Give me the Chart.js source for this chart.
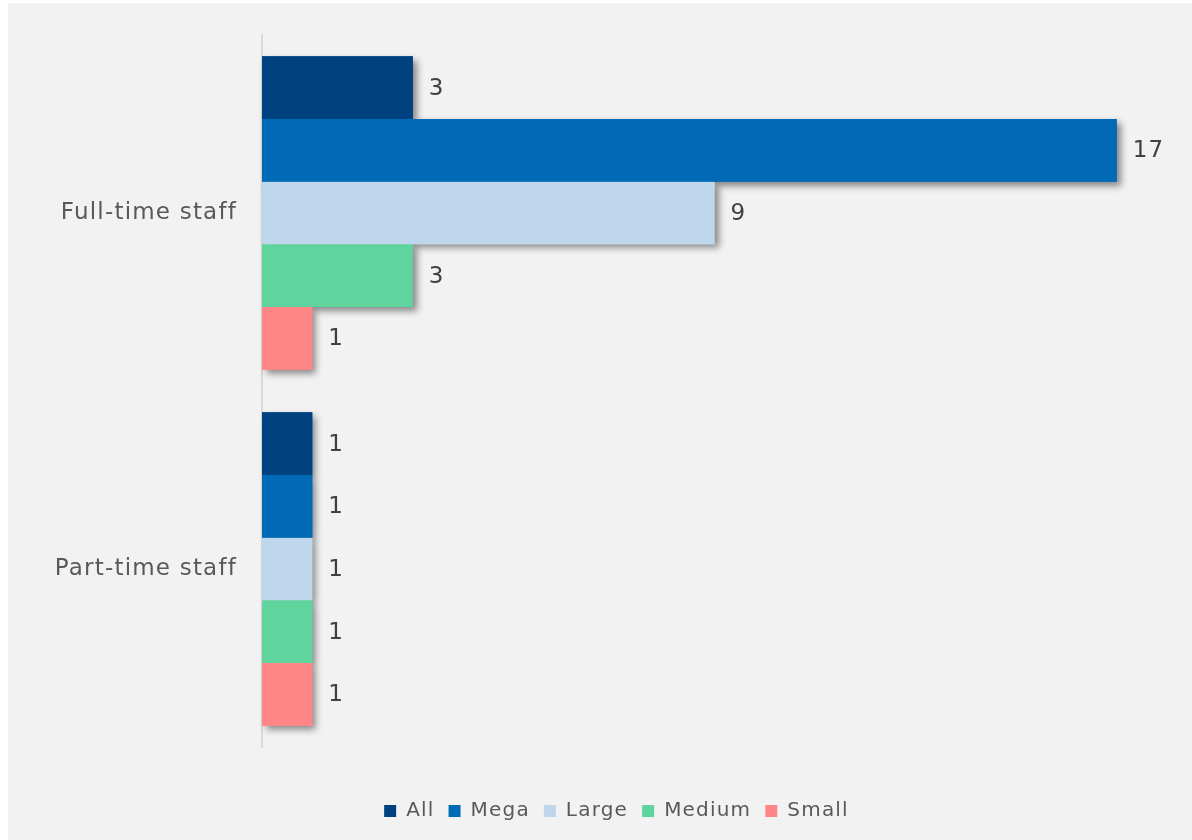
<!DOCTYPE html>
<html>
<head>
<meta charset="utf-8">
<script src="https://cdn.jsdelivr.net/npm/chart.js@4/dist/chart.umd.min.js"></script>
<style>
  body { margin: 0; background: #ffffff; }
  #wrap { position: absolute; left: 8px; top: 3px; width: 1184px; height: 837px; background: #f2f2f2; }
</style>
</head>
<body>
<div id="wrap"><canvas id="staffChart" width="1184" height="837"></canvas></div>
<script>
// categories and one value list per company size
var categories = ["Full-time staff", "Part-time staff"];
var seriesNames = ["All", "Mega", "Large", "Medium", "Small"];
var allValues = [3, 1];
var megaValues = [17, 1];
var largeValues = [9, 1];
var mediumValues = [3, 1];
var smallValues = [1, 1];
var seriesColors = ["#00427f", "#006ab7", "#bfd7ec", "#5fd49c", "#ff8686"];

var fontFamily = "'DejaVu Sans', 'Open Sans', sans-serif";

// a little extra tracking on all canvas text (layout and drawing)
var wideText = {
    id: 'wideText',
    beforeUpdate: function (chart) { chart.ctx.letterSpacing = '1.2px'; },
    beforeDraw: function (chart) { chart.ctx.letterSpacing = '1.2px'; }
};

// legend sits centred under the plot rather than the whole canvas
var legendShift = {
    id: 'legendShift',
    afterLayout: function (chart) {
        chart.legend.left += 29;
        chart.legend.right += 29;
    }
};

// soft drop shadow behind every bar, painted before the bars themselves
var barShadow = {
    id: 'barShadow',
    beforeDatasetsDraw: function (chart) {
        var ctx = chart.ctx;
        ctx.save();
        ctx.shadowColor = 'rgba(0,0,0,0.45)';
        ctx.shadowBlur = 7;
        ctx.shadowOffsetX = 4;
        ctx.shadowOffsetY = 4;
        chart.data.datasets.forEach(function (ds, i) {
            var meta = chart.getDatasetMeta(i);
            meta.data.forEach(function (bar) {
                var p = bar.getProps(['x', 'y', 'base', 'height'], true);
                ctx.fillStyle = ds.backgroundColor;
                ctx.fillRect(p.base, p.y - p.height / 2, p.x - p.base, p.height);
            });
        });
        ctx.restore();
    }
};

// value written just past the end of each bar
var barValues = {
    id: 'barValues',
    afterDatasetsDraw: function (chart) {
        var ctx = chart.ctx;
        ctx.save();
        ctx.font = '23px ' + fontFamily;
        ctx.fillStyle = '#404040';
        ctx.textAlign = 'left';
        ctx.textBaseline = 'middle';
        chart.data.datasets.forEach(function (ds, i) {
            var meta = chart.getDatasetMeta(i);
            meta.data.forEach(function (bar, j) {
                ctx.fillText(String(ds.data[j]), bar.x + 16, bar.y + 1);
            });
        });
        ctx.restore();
    }
};

var valueLists = [allValues, megaValues, largeValues, mediumValues, smallValues];
var datasets = seriesNames.map(function (name, i) {
    return {
        label: name,
        data: valueLists[i],
        backgroundColor: seriesColors[i],
        borderWidth: 0,
        barPercentage: 1.0,
        categoryPercentage: 0.88
    };
});

new Chart(document.getElementById('staffChart'), {
    type: 'bar',
    data: { labels: categories, datasets: datasets },
    options: {
        indexAxis: 'y',
        responsive: false,
        animation: false,
        layout: { padding: { top: 32, right: 25, bottom: 9, left: 0 } },
        scales: {
            x: {
                display: false,
                min: 0,
                max: 18
            },
            y: {
                grid: { display: false, drawTicks: false },
                border: { color: '#d9d9d9', width: 2 },
                ticks: {
                    color: '#595959',
                    padding: 25,
                    font: { family: fontFamily, size: 23 }
                },
                afterFit: function (scale) {
                    scale.width = 254;
                    scale.paddingTop = 0;
                    scale.paddingBottom = 0;
                }
            }
        },
        plugins: {
            tooltip: { enabled: false },
            legend: {
                position: 'bottom',
                title: {
                    display: true,
                    text: ' ',
                    font: { size: 10 },
                    padding: { top: 28, bottom: 0 }
                },
                labels: {
                    color: '#595959',
                    boxWidth: 12,
                    boxHeight: 12,
                    padding: 14,
                    font: { family: fontFamily, size: 20 }
                }
            }
        }
    },
    plugins: [wideText, legendShift, barShadow, barValues]
});
</script>
</body>
</html>
